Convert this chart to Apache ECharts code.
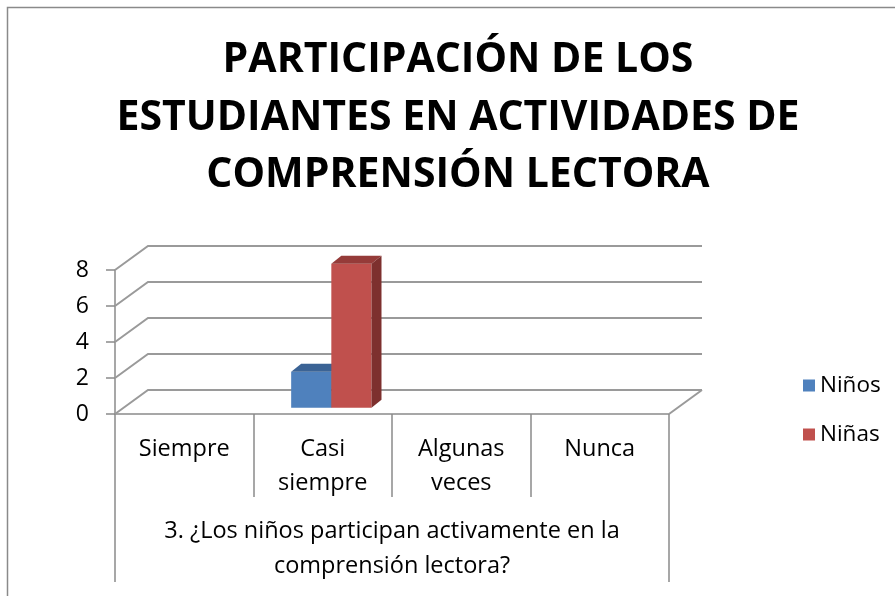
<!DOCTYPE html>
<html>
<head>
<meta charset="utf-8">
<script src="https://cdn.jsdelivr.net/npm/echarts@6/dist/echarts.min.js"></script>
<style>
  html, body { margin: 0; padding: 0; background: #fff; }
  #main { width: 895px; height: 596px; }
</style>
</head>
<body>
<div id="main"></div>
<script>
// datos del grafico
var categories = ['Siempre', 'Casi\nsiempre', 'Algunas\nveces', 'Nunca'];
var groupLabel = ['3. ¿Los niños participan activamente en la\ncomprensión lectora?'];
var ninos = [0, 2, 0, 0];
var ninas = [0, 8, 0, 0];
var yTicks = [0, 2, 4, 6, 8];

// profundidad del efecto 3D
var DX = 33, DY = -24;
var BAR_DEPTH = 0.26;
var BDX = 10, BDY = -8;
var LINE = '#9a9a9a';
var FONT = 'Open Sans';

var chart = echarts.init(document.getElementById('main'));

// pared del fondo + diagonales
function renderWall(params, api) {
  var cs = params.coordSys;
  var v = api.value(1);
  var y = api.coord([0, v])[1];
  var left = cs.x, right = cs.x + cs.width;
  var children = [{
    type: 'polyline',
    shape: { points: [[left, y], [left + DX, y + DY], [right + DX, y + DY]] },
    style: { stroke: LINE, lineWidth: 2, fill: null }
  }];
  if (v === 0) {
    children.push({
      type: 'line',
      shape: { x1: right, y1: y, x2: right + DX, y2: y + DY },
      style: { stroke: LINE, lineWidth: 2 }
    });
  }
  return { type: 'group', children: children };
}

function barRenderer(slot, front, top, side) {
  return function (params, api) {
    var idx = api.value(0);
    var v = api.value(1);
    if (!v) return;
    var base = api.coord([idx, 0]);
    var tip = api.coord([idx, v]);
    var w = api.size([1, 0])[0] * 0.29;
    var ox = DX * BAR_DEPTH, oy = DY * BAR_DEPTH;
    var x0 = base[0] - w + slot * w + ox;
    var x1 = x0 + w;
    var yb = base[1] + oy;
    var yt = tip[1] + oy;
    return {
      type: 'group',
      children: [
        { type: 'rect', shape: { x: x0, y: yt, width: w, height: yb - yt }, style: { fill: front } },
        { type: 'polygon', shape: { points: [[x0, yt], [x1, yt], [x1 + BDX, yt + BDY], [x0 + BDX, yt + BDY]] }, style: { fill: top } },
        { type: 'polygon', shape: { points: [[x1, yt], [x1 + BDX, yt + BDY], [x1 + BDX, yb + BDY], [x1, yb]] }, style: { fill: side } }
      ]
    };
  };
}

var option = {
  animation: false,
  title: {
    text: 'PARTICIPACIÓN DE LOS\nESTUDIANTES EN ACTIVIDADES DE\nCOMPRENSIÓN LECTORA',
    left: 458,
    top: 32,
    padding: 0,
    textAlign: 'center',
    textStyle: { fontFamily: FONT, fontWeight: 'bold', fontSize: 41, lineHeight: 57.5, color: '#000' }
  },
  graphic: [{
    type: 'rect', z: -10, silent: true,
    shape: { x: 7.5, y: 7.5, width: 950, height: 700 },
    style: { fill: null, stroke: '#8a8a8a', lineWidth: 1.5 }
  }],
  legend: {
    data: ['Niños', 'Niñas'],
    orient: 'vertical',
    left: 798,
    top: 369,
    icon: 'rect',
    itemWidth: 12,
    itemHeight: 12,
    itemGap: 26,
    textStyle: { fontFamily: FONT, fontSize: 22.5, color: '#000' }
  },
  grid: { left: 115, right: 226, top: 270, bottom: 182 },
  xAxis: [{
    type: 'category',
    data: categories,
    position: 'bottom',
    axisLine: { show: true, lineStyle: { color: '#8a8a8a', width: 1.5 } },
    axisTick: { show: true, interval: 0, length: 83, lineStyle: { color: '#8a8a8a', width: 1.5 } },
    axisLabel: { interval: 0, margin: 18, lineHeight: 34, fontFamily: FONT, fontSize: 23.5, color: '#000' }
  }, {
    type: 'category',
    data: groupLabel,
    position: 'bottom',
    axisLine: { show: false },
    axisTick: { show: true, interval: 0, length: 168, lineStyle: { color: '#8a8a8a', width: 1.5 } },
    axisLabel: { interval: 0, margin: 100, lineHeight: 35, fontFamily: FONT, fontSize: 23.5, color: '#000' }
  }],
  yAxis: {
    type: 'value',
    min: 0,
    max: 8,
    interval: 2,
    splitLine: { show: false },
    axisLine: { show: true, lineStyle: { color: '#8a8a8a', width: 1.5 } },
    axisTick: { show: true, length: 9, lineStyle: { color: '#8a8a8a', width: 1.5 } },
    axisLabel: { margin: 26, fontFamily: FONT, fontSize: 23, color: '#000' }
  },
  series: [{
    name: 'pared',
    type: 'custom',
    renderItem: renderWall,
    data: yTicks.map(function (v) { return [0, v]; }),
    encode: { x: 0, y: 1 },
    silent: true,
    z: 1
  }, {
    name: 'Niños',
    type: 'custom',
    renderItem: barRenderer(0, '#4f81bd', '#3b6395', '#33557f'),
    data: ninos.map(function (v, i) { return [i, v]; }),
    encode: { x: 0, y: 1 },
    itemStyle: { color: '#4f81bd' },
    z: 2
  }, {
    name: 'Niñas',
    type: 'custom',
    renderItem: barRenderer(1, '#c0504d', '#953b39', '#7d302e'),
    data: ninas.map(function (v, i) { return [i, v]; }),
    encode: { x: 0, y: 1 },
    itemStyle: { color: '#c0504d' },
    z: 3
  }]
};

chart.setOption(option);
</script>
</body>
</html>
